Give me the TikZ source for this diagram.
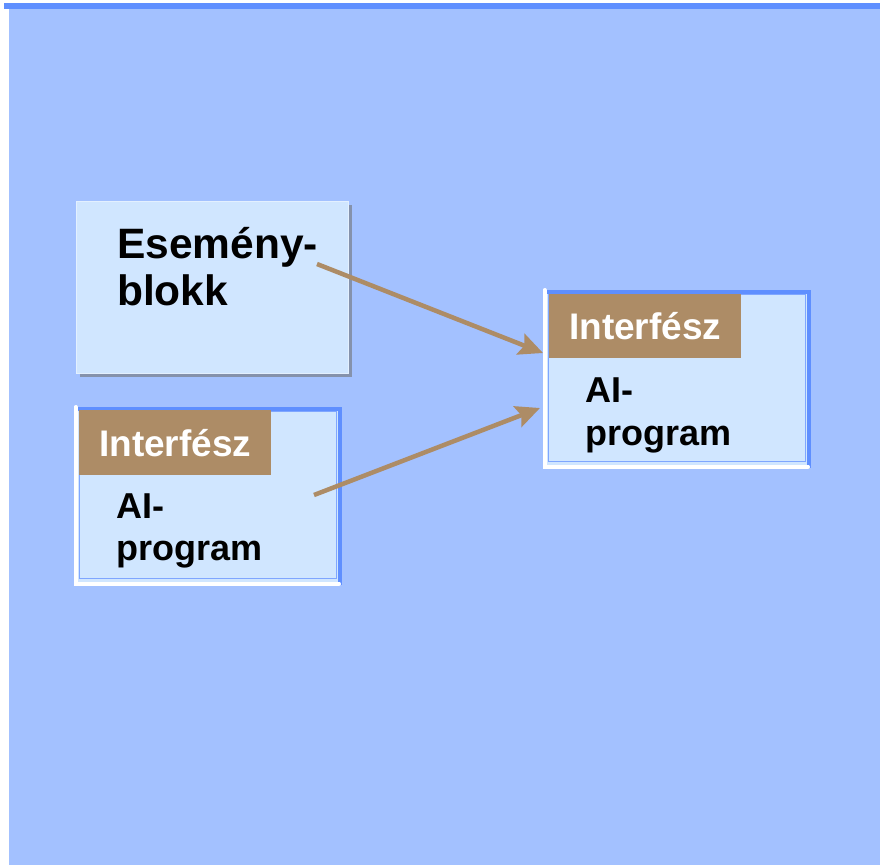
\documentclass[tikz,border=0pt]{standalone}
\usepackage{fontspec}
\setmainfont{Liberation Sans}
\usetikzlibrary{arrows.meta}
\definecolor{bgblue}{HTML}{A3C1FF}
\definecolor{barblue}{HTML}{5F8FFF}
\definecolor{boxfill}{HTML}{D0E6FF}
\definecolor{boxline}{HTML}{7FA6FF}
\definecolor{brown1}{HTML}{AD8C66}
\definecolor{shadowgray}{HTML}{8592AC}
\tikzset{
  big/.style={font=\fontsize{42.5}{47}\selectfont\bfseries, anchor=base west, inner sep=0pt, text=black},
  mid/.style={font=\fontsize{36}{42}\selectfont\bfseries, anchor=base west, inner sep=0pt, text=black},
  head/.style={font=\fontsize{37}{42}\selectfont\bfseries, anchor=base west, inner sep=0pt, text=white},
  conn/.style={draw=brown1, line width=4.5pt, -{Stealth[length=24pt,width=22pt,inset=4pt]}},
}
\begin{document}
\begin{tikzpicture}[x=1pt,y=-1pt]
\useasboundingbox (0,0) rectangle (880,865);
\fill[white] (0,0) rectangle (880,865);
\fill[barblue] (4,3) rectangle (880,9);
\fill[bgblue] (9,9) rectangle (880,865);

% Box 1: Esemény-blokk
\fill[shadowgray] (80,205) rectangle (351.5,376.5);
\node[draw=boxfill!60!white, fill=boxfill, line width=1pt, minimum width=272pt, minimum height=172pt, inner sep=0pt] (esem) at (212,287) {};
\node[big] (esemA) at (117,258) {Esemény-};
\node[big] (esemB) at (117,305) {blokk};

% Box 2: left bottom
\node[fill=boxfill, minimum width=264pt, minimum height=175pt, inner sep=0pt] (leftbox) at (207.5,496) {};
\draw[boxline, line width=1pt] (79.5,411) rectangle (336.5,578.5);
\draw[barblue, line width=4pt] (74,409) -- (339.5,409) -- (339.5,585);
\draw[white, line width=4pt, line cap=round] (75.5,407) -- (75.5,583.5) -- (339,583.5);
\node[fill=brown1, minimum width=192pt, minimum height=65pt, inner sep=0pt] (lefthead) at (175,442.5) {};
\node[head] (lefthtext) at (99,456) {Interfész};
\node[mid] (leftA) at (116,518) {AI-};
\node[mid] (leftB) at (116,560) {program};

% Box 3: right
\node[fill=boxfill, minimum width=264pt, minimum height=175pt, inner sep=0pt] (rightbox) at (676.5,379) {};
\draw[boxline, line width=1pt] (548.5,294) rectangle (805.5,461.5);
\draw[barblue, line width=4pt] (543,292) -- (808.5,292) -- (808.5,468);
\draw[white, line width=4pt, line cap=round] (544.5,290) -- (544.5,466.5) -- (808,466.5);
\node[fill=brown1, minimum width=192pt, minimum height=64pt, inner sep=0pt] (righthead) at (645,325.5) {};
\node[head] (righthtext) at (569,339) {Interfész};
\node[mid] (rightA) at (585,402) {AI-};
\node[mid] (rightB) at (585,445) {program};

% Connectors
\coordinate (s1) at (317,264);
\coordinate (t1) at (543,353);
\coordinate (s2) at (314,495);
\coordinate (t2) at (540,408);
\draw[conn] (s1) -- (t1);
\draw[conn] (s2) -- (t2);
\end{tikzpicture}
\end{document}
